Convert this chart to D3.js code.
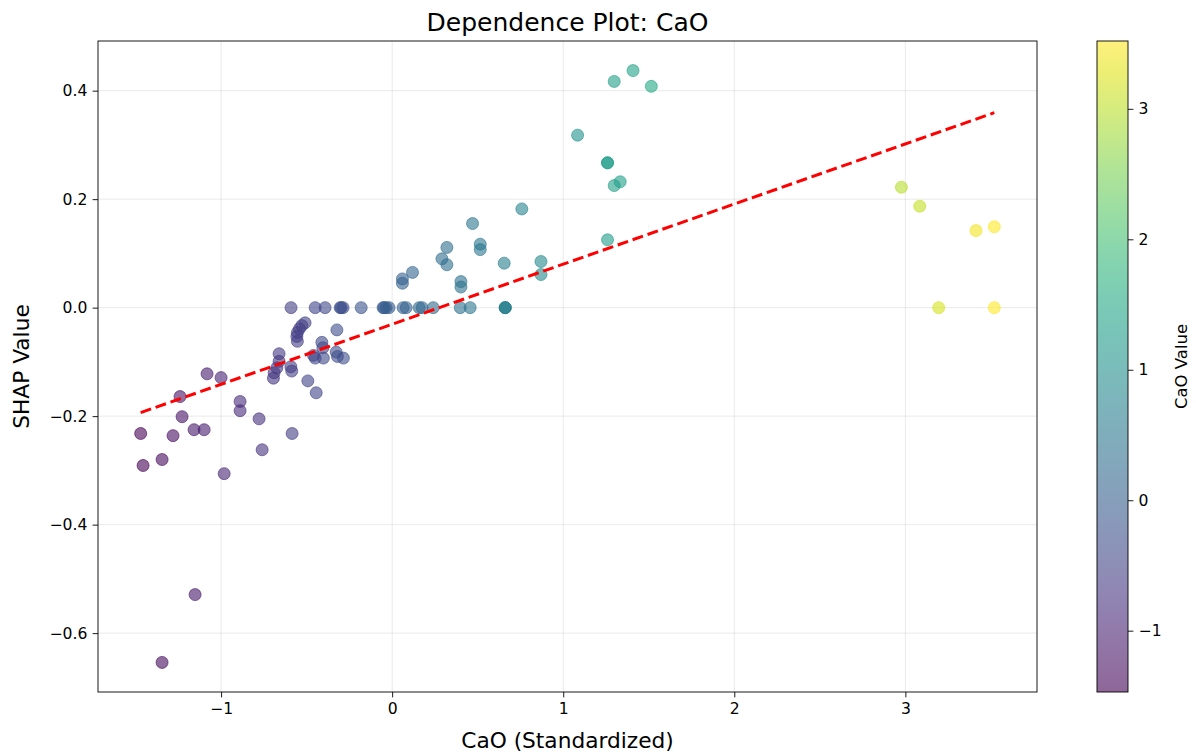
<!DOCTYPE html>
<html>
<head>
<meta charset="utf-8">
<script src="https://cdn.jsdelivr.net/npm/d3@7"></script>
<style>
  html, body { margin: 0; padding: 0; background: #fff; }
  svg { display: block; font-family: "DejaVu Sans", sans-serif; }
</style>
</head>
<body>
<svg id="chart" width="1196" height="754"></svg>
<script>
// Standardized CaO value of each sample
const caoValues = [
  -1.470, -1.456, -1.345, -1.281, -1.228, -1.240, -1.158, -1.099, -1.082, -1.000,
  -0.982, -0.889, -0.889, -0.778, -0.760, -0.585, -1.152, -1.345,
  -0.509, -0.528, -0.542, -0.554, -0.557, -0.554, -0.323, -0.411, -0.405, -0.460,
  -0.450, -0.402, -0.327, -0.320, -0.285, -0.661, -0.661, -0.674, -0.690, -0.694,
  -0.592, -0.587, -0.493, -0.444,
  -0.591, -0.450, -0.392, -0.304, -0.298, -0.287, -0.181, -0.053, -0.047, -0.035,
  -0.018, 0.064, 0.082, 0.158, 0.175, 0.240, 0.398, 0.456, 0.661, 0.661, 0.661,
  0.758, 0.470, 0.515, 0.515, 0.320, 0.291, 0.320, 0.119, 0.060, 0.060,
  0.402, 0.402, 0.655, 0.870, 0.870,
  1.298, 1.408, 1.515, 1.084, 1.259, 1.259, 1.298, 1.333, 1.259,
  2.977, 3.084, 3.413, 3.520, 3.195, 3.520
];

// SHAP contribution of CaO for the same samples
const shapValues = [
  -0.232, -0.291, -0.280, -0.236, -0.201, -0.164, -0.225, -0.225, -0.122, -0.129,
  -0.306, -0.173, -0.190, -0.205, -0.262, -0.232, -0.529, -0.654,
  -0.028, -0.033, -0.039, -0.046, -0.053, -0.062, -0.041, -0.064, -0.074, -0.088,
  -0.093, -0.093, -0.082, -0.090, -0.093, -0.085, -0.099, -0.111, -0.120, -0.130,
  -0.109, -0.117, -0.135, -0.157,
  0, 0, 0, 0, 0, 0, 0, 0, 0, 0,
  0, 0, 0, 0, 0, 0, 0, 0, 0, 0, 0,
  0.182, 0.155, 0.117, 0.107, 0.111, 0.090, 0.079, 0.065, 0.053, 0.045,
  0.048, 0.038, 0.082, 0.085, 0.061,
  0.417, 0.437, 0.408, 0.318, 0.267, 0.267, 0.225, 0.232, 0.125,
  0.222, 0.187, 0.142, 0.149, 0.000, 0.000
];

// Least-squares trend line (slope, intercept)
const trendSlope = 0.1108;
const trendIntercept = -0.0306;

const xTickValues = [-1, 0, 1, 2, 3];
const yTickValues = [-0.6, -0.4, -0.2, 0.0, 0.2, 0.4];
const cbTickValues = [-1, 0, 1, 2, 3];

const titleText = "Dependence Plot: CaO";
const xLabelText = "CaO (Standardized)";
const yLabelText = "SHAP Value";
const cbLabelText = "CaO Value";

const points = caoValues.map((v, i) => ({ x: v, y: shapValues[i] }));

const svg = d3.select("#chart");
const plot = { left: 98, right: 1037, top: 41, bottom: 692 };
const cb = { left: 1097, right: 1128, top: 41, bottom: 692 };
const tickFont = "15.6px";

// axis limits with 5% padding on each side of the data range
function padded(ext) {
  const r = ext[1] - ext[0];
  return [ext[0] - 0.05 * r, ext[1] + 0.05 * r];
}
const xExt = d3.extent(caoValues);
const yExt = d3.extent(shapValues);

const x = d3.scaleLinear().domain(padded(xExt)).range([plot.left, plot.right]);
const y = d3.scaleLinear().domain(padded(yExt)).range([plot.bottom, plot.top]);
const color = d3.scaleSequential(d3.interpolateViridis).domain(xExt);

// grid
const grid = svg.append("g");
grid.selectAll("line.gx").data(xTickValues).join("line")
  .attr("x1", d => x(d)).attr("x2", d => x(d))
  .attr("y1", plot.top).attr("y2", plot.bottom)
  .attr("stroke", "#b0b0b0").attr("stroke-opacity", 0.3).attr("stroke-width", 0.9);
grid.selectAll("line.gy").data(yTickValues).join("line")
  .attr("y1", d => y(d)).attr("y2", d => y(d))
  .attr("x1", plot.left).attr("x2", plot.right)
  .attr("stroke", "#b0b0b0").attr("stroke-opacity", 0.3).attr("stroke-width", 0.9);

// scatter
svg.append("g").selectAll("circle").data(points).join("circle")
  .attr("cx", d => x(d.x)).attr("cy", d => y(d.y)).attr("r", 6)
  .attr("fill", d => color(d.x)).attr("fill-opacity", 0.6)
  .attr("stroke", d => color(d.x)).attr("stroke-opacity", 0.6).attr("stroke-width", 1);

// trend line
const trendX = xExt;
svg.append("line")
  .attr("x1", x(trendX[0])).attr("y1", y(trendSlope * trendX[0] + trendIntercept))
  .attr("x2", x(trendX[1])).attr("y2", y(trendSlope * trendX[1] + trendIntercept))
  .attr("stroke", "#ff0000").attr("stroke-width", 3)
  .attr("stroke-dasharray", "11,4.8");

// axes
const xAxis = d3.axisBottom(x).tickValues(xTickValues).tickFormat(d3.format("d"))
  .tickSizeOuter(0).tickSizeInner(5.4).tickPadding(5.2);
const yAxis = d3.axisLeft(y).tickValues(yTickValues).tickFormat(d3.format(".1f"))
  .tickSizeOuter(0).tickSizeInner(5.4).tickPadding(5.2);

const gx = svg.append("g").attr("transform", `translate(0,${plot.bottom})`).call(xAxis);
const gy = svg.append("g").attr("transform", `translate(${plot.left},0)`).call(yAxis);
[gx, gy].forEach(g => {
  g.select(".domain").remove();
  g.selectAll(".tick line").attr("stroke", "#000").attr("stroke-width", 0.9);
  g.selectAll(".tick text").attr("fill", "#000")
    .style("font-family", "DejaVu Sans").style("font-size", tickFont);
});

// frame
svg.append("rect")
  .attr("x", plot.left).attr("y", plot.top)
  .attr("width", plot.right - plot.left).attr("height", plot.bottom - plot.top)
  .attr("fill", "none").attr("stroke", "#000").attr("stroke-width", 0.9);

// titles
svg.append("text").attr("x", (plot.left + plot.right) / 2).attr("y", 31)
  .attr("text-anchor", "middle").style("font-size", "25px").text(titleText);
svg.append("text").attr("x", (plot.left + plot.right) / 2).attr("y", 748)
  .attr("text-anchor", "middle").style("font-size", "21.7px").text(xLabelText);
svg.append("text")
  .attr("transform", `translate(29,${(plot.top + plot.bottom) / 2}) rotate(-90)`)
  .attr("text-anchor", "middle").style("font-size", "21.7px").text(yLabelText);

// colorbar
const defs = svg.append("defs");
const grad = defs.append("linearGradient").attr("id", "cbgrad")
  .attr("x1", 0).attr("y1", 1).attr("x2", 0).attr("y2", 0);
d3.range(0, 1.0001, 0.05).forEach(t => {
  grad.append("stop").attr("offset", t)
    .attr("stop-color", d3.interpolateViridis(t)).attr("stop-opacity", 0.6);
});
svg.append("rect")
  .attr("x", cb.left).attr("y", cb.top)
  .attr("width", cb.right - cb.left).attr("height", cb.bottom - cb.top)
  .attr("fill", "url(#cbgrad)");
svg.append("rect")
  .attr("x", cb.left).attr("y", cb.top)
  .attr("width", cb.right - cb.left).attr("height", cb.bottom - cb.top)
  .attr("fill", "none").attr("stroke", "#000").attr("stroke-width", 0.9);

const cbScale = d3.scaleLinear().domain(xExt).range([cb.bottom, cb.top]);
const cbAxis = d3.axisRight(cbScale).tickValues(cbTickValues).tickFormat(d3.format("d"))
  .tickSizeOuter(0).tickSizeInner(5.4).tickPadding(5.2);
const gcb = svg.append("g").attr("transform", `translate(${cb.right},0)`).call(cbAxis);
gcb.select(".domain").remove();
gcb.selectAll(".tick line").attr("stroke", "#000").attr("stroke-width", 0.9);
gcb.selectAll(".tick text").attr("fill", "#000")
  .style("font-family", "DejaVu Sans").style("font-size", tickFont);

svg.append("text")
  .attr("transform", `translate(1187,${(cb.top + cb.bottom) / 2}) rotate(-90)`)
  .attr("text-anchor", "middle").style("font-size", "16.5px").text(cbLabelText);
</script>
</body>
</html>
